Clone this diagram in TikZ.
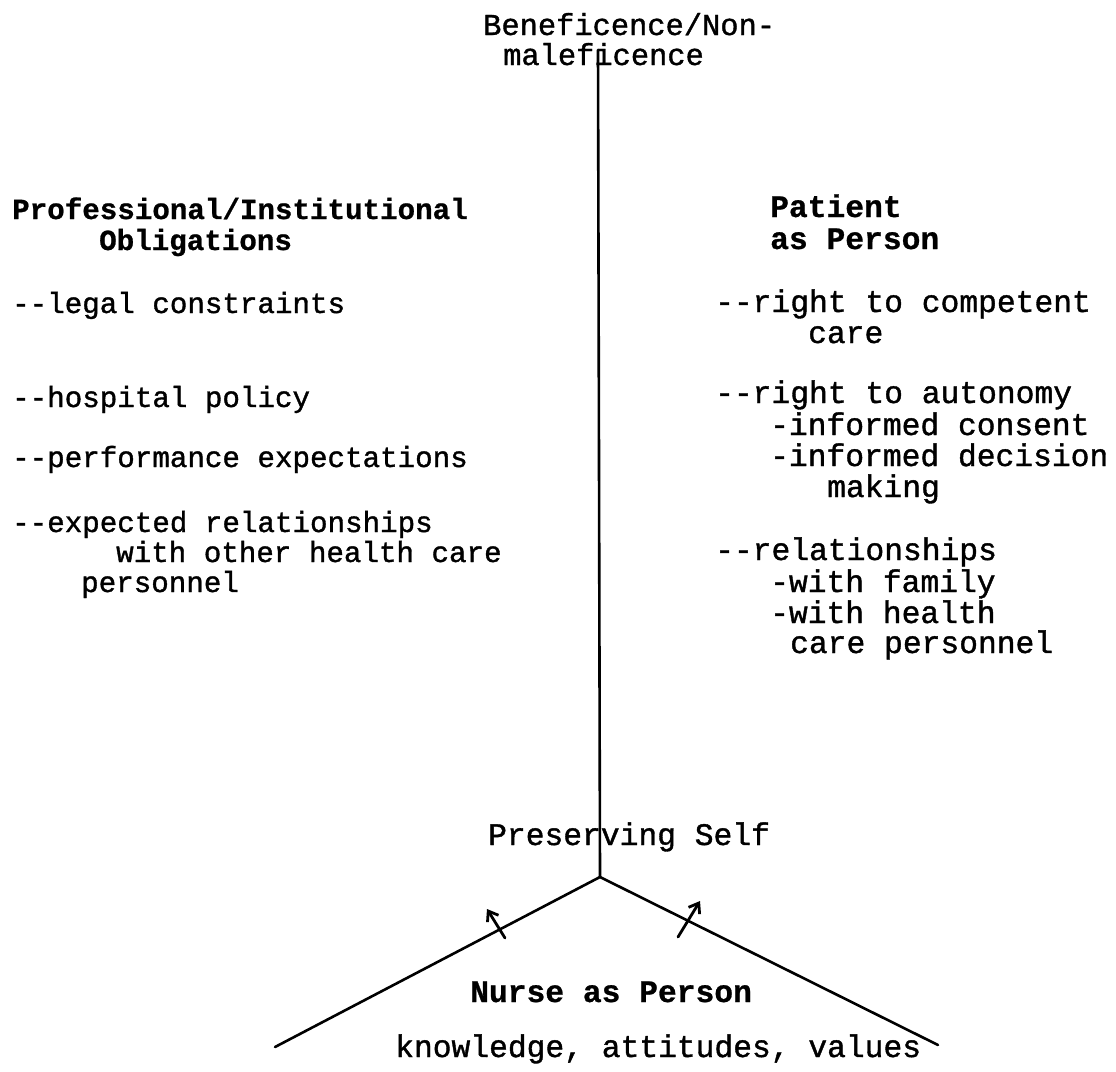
\documentclass[tikz,border=0pt]{standalone}
\usepackage{fontspec}
\newfontfamily\cour[UprightFeatures={FakeBold=1.2},BoldFeatures={FakeBold=0.8}]{Liberation Mono}
\usetikzlibrary{arrows.meta}
\tikzset{
  big/.style={anchor=base west, inner sep=0pt, font=\cour\fontsize{31.3}{31}\selectfont},
  small/.style={anchor=base west, inner sep=0pt, font=\cour\fontsize{29.2}{30}\selectfont},
  topt/.style={anchor=base west, inner sep=0pt, font=\cour\fontsize{30.4}{30}\selectfont},
  axis/.style={line width=2.6pt, line cap=round},
  push/.style={line width=2.8pt, line cap=round, -{Straight Barb[length=9pt,width=13pt,line width=2.8pt]}}
}
\begin{document}
\begin{tikzpicture}[x=1pt,y=-1pt]
\useasboundingbox (0,0) rectangle (1116,1071);
% top label
\node[topt] (t1) at (483,35) {Beneficence/Non-};
\node[topt] (t2) at (503,65) {maleficence};
% left column
\node[small] (l1) at (12,219) {\bfseries Professional/Institutional};
\node[small] (l2) at (99,250) {\bfseries Obligations};
\node[small] (l3) at (12,313) {--legal constraints};
\node[small] (l4) at (12,407) {--hospital policy};
\node[small] (l5) at (12,467) {--performance expectations};
\node[small] (l6) at (12,532) {--expected relationships};
\node[small] (l7) at (116,562) {with other health care};
\node[small] (l8) at (81,592) {personnel};
% right column
\node[big] (r1) at (770,217) {\bfseries Patient};
\node[big] (r2) at (770,249) {\bfseries as Person};
\node[big] (r3) at (715,312) {--right to competent};
\node[big] (r4) at (808,343) {care};
\node[big] (r5) at (715,403) {--right to autonomy};
\node[big] (r6) at (770,435) {-informed consent};
\node[big] (r7) at (770,466) {-informed decision};
\node[big] (r8) at (827,497) {making};
\node[big] (r9) at (715,560) {--relationships};
\node[big] (r10) at (770,592) {-with family};
\node[big] (r11) at (770,623) {-with health};
\node[big] (r12) at (790,653) {care personnel};
% bottom
\node[big] (ps) at (488,845) {Preserving Self};
\node[big] (np) at (470,1002) {\bfseries Nurse as Person};
\node[big] (kv) at (395,1057) {knowledge, attitudes, values};
% axes
\coordinate (T) at (598,50);
\coordinate (J) at (600,877);
\coordinate (L) at (275,1047);
\coordinate (R) at (938,1045);
\draw[axis] (T) -- (J);
\draw[axis] (J) -- (L);
\draw[axis] (J) -- (R);
% small arrows
\coordinate (a1s) at (505,938);
\coordinate (a1e) at (487,909);
\coordinate (a2s) at (678,937);
\coordinate (a2e) at (700,901);
\draw[push] (a1s) -- (a1e);
\draw[push] (a2s) -- (a2e);
\end{tikzpicture}
\end{document}
